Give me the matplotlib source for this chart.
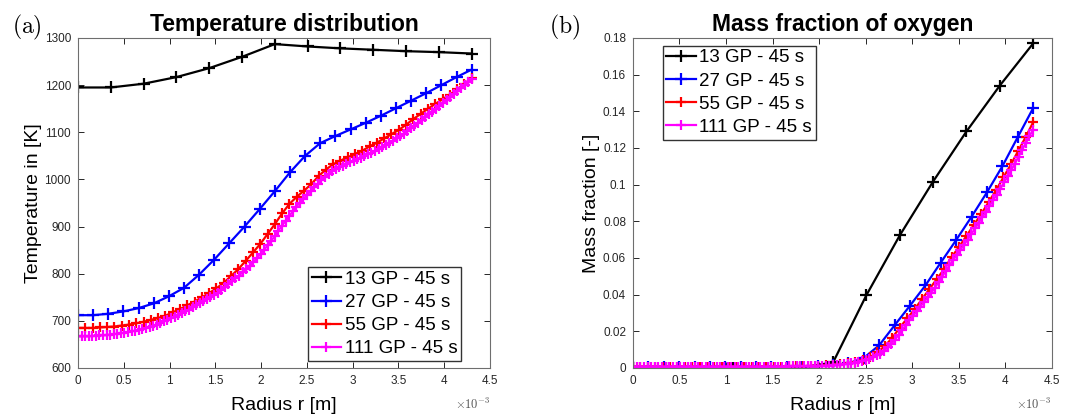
import numpy as np
import matplotlib
matplotlib.use("Agg")
import matplotlib.pyplot as plt
from matplotlib.ticker import FuncFormatter, MultipleLocator

plt.rcParams['font.family'] = ['Liberation Sans', 'DejaVu Sans']
plt.rcParams['mathtext.fontset'] = 'cm'

R = 4.3e-3  # radius of the particle [m]
labels = ['13 GP - 45 s', '27 GP - 45 s', '55 GP - 45 s', '111 GP - 45 s']
colors = ['black', 'blue', 'red', 'magenta']

# Temperature [K] at the grid points
T_13 = [1195, 1195, 1203, 1217, 1236, 1260, 1287, 1282, 1278, 1275, 1272, 1270, 1267]
T_27 = [712, 712, 715, 720, 727, 737, 752, 770, 798, 830, 865, 900, 937, 975,
        1015, 1050, 1077, 1092, 1106, 1120, 1135, 1151, 1167, 1183, 1200, 1217, 1233]
T_55 = [685, 685, 685, 686, 687, 688, 690, 692, 695, 698, 702, 706, 711, 718,
        725, 733, 741, 750, 759, 769, 781, 795, 810, 827, 845, 863, 884, 905,
        928, 948, 963, 976, 990, 1007, 1021, 1032, 1040, 1047, 1054, 1061, 1070,
        1078, 1087, 1096, 1105, 1116, 1128, 1139, 1150, 1160, 1170, 1180, 1191,
        1203, 1215]
T_111 = [667, 667, 667, 667, 668, 668, 669, 669, 670, 671, 672, 673, 674, 675,
         676, 678, 679, 681, 683, 685, 687, 690, 692, 695, 699, 702, 705, 709,
         712, 716, 720, 724, 729, 733, 737, 742, 746, 751, 755, 760, 766, 772,
         778, 784, 790, 796, 803, 810, 817, 825, 833, 842, 851, 860, 870, 880,
         891, 902, 912, 922, 932, 942, 951, 959, 967, 975, 983, 991, 998, 1005,
         1012, 1018, 1022, 1026, 1029, 1033, 1036, 1039, 1043, 1046, 1050, 1053,
         1057, 1061, 1065, 1069, 1073, 1077, 1082, 1087, 1092, 1097, 1102, 1108,
         1114, 1120, 1126, 1132, 1138, 1144, 1150, 1156, 1162, 1168, 1175, 1181,
         1187, 1194, 1200, 1206, 1212]

# Oxygen mass fraction [-] at the grid points
Y_13 = [0.0001, 0.0001, 0.0001, 0.0001, 0.0001, 0.0001, 0.003, 0.0397, 0.0723,
        0.1017, 0.129, 0.154, 0.177]
Y_27 = [0.0005, 0.0005, 0.0005, 0.0005, 0.0005, 0.0005, 0.0005, 0.0006, 0.0006,
        0.0006, 0.0007, 0.0008, 0.001, 0.0015, 0.0025, 0.0055, 0.0124, 0.0233,
        0.034, 0.045, 0.0575, 0.0698, 0.0825, 0.0958, 0.110, 0.1259, 0.1417]
Y_55 = [0.0008, 0.0008, 0.0008, 0.0008, 0.0008, 0.0008, 0.0008, 0.0008, 0.0008,
        0.0008, 0.0008, 0.0008, 0.0008, 0.0008, 0.0008, 0.0008, 0.0008, 0.0008,
        0.0008, 0.0008, 0.0008, 0.0009, 0.001, 0.001, 0.0011, 0.0012, 0.0014,
        0.0017, 0.002, 0.0025, 0.003, 0.0045, 0.006, 0.0085, 0.012, 0.0165,
        0.022, 0.027, 0.032, 0.0375, 0.043, 0.0485, 0.054, 0.0605, 0.066, 0.072,
        0.078, 0.084, 0.0905, 0.097, 0.104, 0.111, 0.1185, 0.126, 0.134]
Y_111 = [0.0008, 0.0008, 0.0008, 0.0008, 0.0008, 0.0008, 0.0008, 0.0008, 0.0008,
         0.0008, 0.0008, 0.0008, 0.0008, 0.0008, 0.0008, 0.0008, 0.0008, 0.0008,
         0.0008, 0.0008, 0.0008, 0.0008, 0.0008, 0.0008, 0.0008, 0.0008, 0.0008,
         0.0008, 0.0008, 0.0008, 0.0008, 0.0008, 0.0008, 0.0008, 0.0008, 0.0008,
         0.0008, 0.0008, 0.0008, 0.0008, 0.0008, 0.0008, 0.0008, 0.0009, 0.0009,
         0.0009, 0.001, 0.001, 0.001, 0.001, 0.0011, 0.0011, 0.0012, 0.0012,
         0.0013, 0.0015, 0.0016, 0.0018, 0.002, 0.0022, 0.0025, 0.0028, 0.0032,
         0.0037, 0.0043, 0.005, 0.006, 0.007, 0.0078, 0.0095, 0.0112, 0.013,
         0.0155, 0.018, 0.0207, 0.0233, 0.026, 0.0283, 0.031, 0.0335, 0.036,
         0.0385, 0.041, 0.0439, 0.0467, 0.0498, 0.053, 0.056, 0.0589, 0.0617,
         0.0645, 0.0672, 0.070, 0.073, 0.0761, 0.0791, 0.0821, 0.0852, 0.0883,
         0.0915, 0.0946, 0.0978, 0.1012, 0.1045, 0.108, 0.1115, 0.1153, 0.119,
         0.1228, 0.1265, 0.130]

T_all = [T_13, T_27, T_55, T_111]
Y_all = [Y_13, Y_27, Y_55, Y_111]
msizes = [9, 8, 7.5, 7.5]

fig = plt.figure(figsize=(10.71, 4.16), dpi=100)
ax1 = fig.add_axes([0.0728, 0.1154, 0.3847, 0.7933])
ax2 = fig.add_axes([0.591, 0.1154, 0.391, 0.7933])

for ax, data in [(ax1, T_all), (ax2, Y_all)]:
    for vals, c, lab, ms in zip(data, colors, labels, msizes):
        r = np.linspace(0, R, len(vals))
        ax.plot(r, vals, color=c, lw=1.6, marker='+', ms=ms, mew=1.6, label=lab)

leg_kw = dict(fontsize=13.5, frameon=True, fancybox=False, edgecolor='#333333',
              framealpha=1, handlelength=1.55, handletextpad=0.2, borderpad=0.2,
              labelspacing=0.32, borderaxespad=0)

def style(ax):
    ax.set_xlim(0, 4.5e-3)
    ax.xaxis.set_major_locator(MultipleLocator(0.5e-3))
    ax.xaxis.set_major_formatter(FuncFormatter(lambda v, p: '%g' % round(v * 1e3, 3)))
    ax.tick_params(direction='in', top=True, right=True, length=4, width=0.7,
                   colors='#262626', labelsize=8.5, pad=5)
    for s in ax.spines.values():
        s.set_color('#6e6e6e')
        s.set_linewidth(0.8)
    ax.set_xlabel('Radius r [m]', fontsize=14, labelpad=7)
    ax.text(1.0, -0.11, r'$\times10^{-3}$', transform=ax.transAxes, ha='right',
            va='center', fontsize=9, color='#555555')

style(ax1)
ax1.set_ylim(600, 1300)
ax1.yaxis.set_major_locator(MultipleLocator(100))
ax1.set_ylabel('Temperature in [K]', fontsize=14, labelpad=2)
ax1.set_title('Temperature distribution', fontsize=16.5, fontweight='bold', pad=5)
ax1.legend(loc='lower right', bbox_to_anchor=(0.93, 0.021), **leg_kw)

style(ax2)
ax2.set_ylim(0, 0.18)
ax2.yaxis.set_major_locator(MultipleLocator(0.02))
ax2.yaxis.set_major_formatter(FuncFormatter(lambda v, p: '%g' % round(v, 4)))
ax2.set_ylabel('Mass fraction [-]', fontsize=14, labelpad=2)
ax2.set_title('Mass fraction of oxygen', fontsize=16.5, fontweight='bold', pad=5)
ax2.legend(loc='upper left', bbox_to_anchor=(0.071, 0.977), **leg_kw)

fig.text(0.011, 0.935, r'$\mathrm{(a)}$', fontsize=17, va='center')
fig.text(0.513, 0.935, r'$\mathrm{(b)}$', fontsize=17, va='center')

fig.savefig('out.png', dpi=100)
